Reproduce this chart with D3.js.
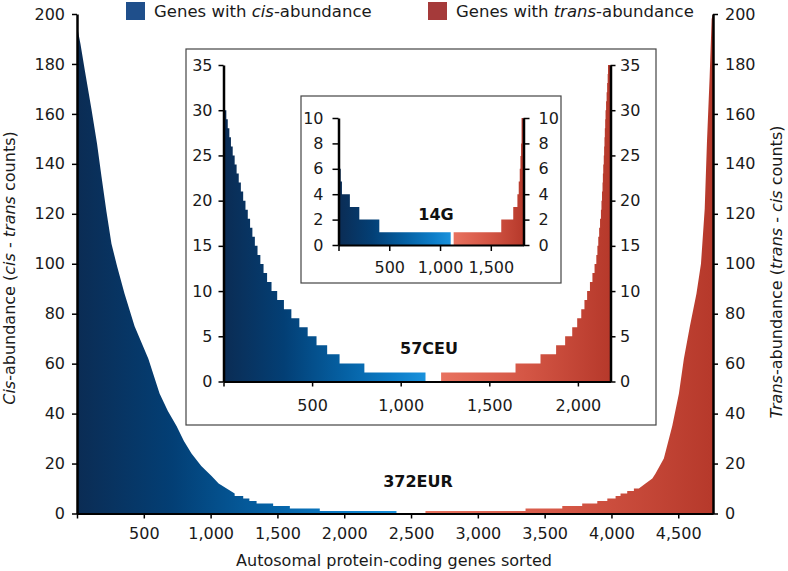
<!DOCTYPE html>
<html><head><meta charset="utf-8">
<script src="https://cdn.jsdelivr.net/npm/d3@7"></script>
<style>
html,body{margin:0;padding:0;background:#fff;}
svg{display:block;}
text{font-family:"DejaVu Sans",sans-serif;}
</style></head><body>
<svg id="chart" width="788" height="571"></svg>
<script>
// ---------- DATA ----------
// Main panel (372EUR): vertices (gene rank, count)
const mainCisGene  = [0,8,26,60,108,150,183,220,258,300,356,431,534,618,680,745,800,857,930,1007,1060,1120,1180,1180,1244,1244,1290,1290,1344,1344,1468,1468,1593,1593,1817,1817,2391];
const mainCisCount = [200,193,188,177,162,148,135,121,108,99,88,75,62,48,41,35,29,24,19,15,12,10,8,7,7,6,6,5,5,4,4,3,3,2,2,1,1];
const mainTransGene  = [2608,3357,3357,3632,3632,3781,3781,3894,3894,3969,3969,4031,4031,4068,4068,4118,4118,4168,4168,4205,4255,4306,4330,4392,4455,4505,4542,4587,4636,4670,4698,4715,4735,4750,4760];
const mainTransCount = [1,1,2,2,3,3,4,4,5,5,6,6,7,7,8,8,9,9,10,10,12,14,16,22,35,48,62,75,88,100,122,149,175,198,200];
const mainGeneTotal = 4760;
const mainXTicks = [0,500,1000,1500,2000,2500,3000,3500,4000,4500];
const mainYTicks = [0,20,40,60,80,100,120,140,160,180,200];

// Inset 57CEU: step starts (gene rank) and counts
const ceuCisStart = [0,8,16,24,33,42,52,63,74,86,98,111,124,137,150,163,177,192,208,226,246,271,303,341,383,428,475,525,585,655,795];
const ceuCisCount = [31,30,29,28,27,26,25,24,23,22,21,20,19,18,17,16,15,14,13,12,11,10,9,8,7,6,5,4,3,2,1];
const ceuCisEnd = 1140;
const ceuTransStart = [1228,1648,1789,1877,1928,1968,1996,2019,2037,2052,2068,2082,2094,2104,2110,2115,2120,2125,2130,2133,2136,2139,2141,2143,2146,2148,2150,2152,2154,2156,2159,2162,2165,2168,2170];
const ceuTransCount = [1,2,3,4,5,6,7,8,9,10,11,12,13,14,15,16,17,18,19,20,21,22,23,24,25,26,27,28,29,30,31,32,33,34,35];
const ceuTransEnd = 2184;
const ceuGeneTotal = 2184;
const ceuXTicks = [0,500,1000,1500,2000];
const ceuYTicks = [0,5,10,15,20,25,30,35];

// Inset 14G
const g14CisStart = [0,12,22,34,112,205,402];
const g14CisCount = [7,6,5,4,3,2,1];
const g14CisEnd = 1105;
const g14TransStart = [1134,1603,1721,1762,1775,1785,1792,1798,1803];
const g14TransCount = [1,2,3,4,5,6,7,8,10];
const g14TransEnd = 1822;
const g14GeneTotal = 1822;
const g14XTicks = [0,500,1000,1500];
const g14YTicks = [0,2,4,6,8,10];

// ---------- DRAW ----------
const svg = d3.select('#chart');
const defs = svg.append('defs');
const FONT = '"DejaVu Sans", sans-serif';
function grad(id, x1, x2, stops){
  const g = defs.append('linearGradient').attr('id', id)
    .attr('gradientUnits','userSpaceOnUse').attr('x1',x1).attr('x2',x2).attr('y1',0).attr('y2',0);
  stops.forEach(([o,c]) => g.append('stop').attr('offset',o).attr('stop-color',c));
}
const blueStops = [[0,'#0b2c54'],[0.3,'#033f75'],[0.6,'#0561a4'],[0.85,'#0d7ec9'],[1,'#1b92dc']];
const redStops = [[0,'#e8725f'],[0.5,'#d45645'],[1,'#b6392b']];
const fmt = d3.format(',');

function styleAxis(g, w){
  g.attr('font-family', FONT).attr('font-size', 16);
  g.select('.domain').attr('stroke','#000').attr('stroke-width', w);
  g.selectAll('.tick line').attr('stroke','#000').attr('stroke-width',1.5);
  g.selectAll('.tick text').attr('fill','#1a1a1a');
}

function panel(cfg){
  const x = d3.scaleLinear().domain([0, cfg.total]).range(cfg.xr);
  const y = d3.scaleLinear().domain([0, cfg.ymax]).range(cfg.yr);
  const area = d3.area().x(d => x(d[0])).y0(y(0)).y1(d => y(d[1])).curve(cfg.curve);
  grad(cfg.id + 'B', x(cfg.cis[0][0]), x(cfg.cis[cfg.cis.length-1][0]), blueStops);
  grad(cfg.id + 'R', x(cfg.trans[0][0]), x(cfg.trans[cfg.trans.length-1][0]), redStops);
  svg.append('path').datum(cfg.cis).attr('d', area).attr('fill', `url(#${cfg.id}B)`);
  svg.append('path').datum(cfg.trans).attr('d', area).attr('fill', `url(#${cfg.id}R)`);
  const gx = svg.append('g').attr('transform', `translate(0,${cfg.yr[0]})`)
    .call(d3.axisBottom(x).tickValues(cfg.xt).tickSize(cfg.ts).tickPadding(cfg.xpad).tickSizeOuter(0)
      .tickFormat(d => d === 0 ? '' : fmt(d)));
  styleAxis(gx, 2);
  const gl = svg.append('g').attr('transform', `translate(${cfg.xr[0]},0)`)
    .call(d3.axisLeft(y).tickValues(cfg.yt).tickSize(cfg.ts).tickPadding(cfg.lpad).tickSizeOuter(0));
  styleAxis(gl, 2.5);
  const gr = svg.append('g').attr('transform', `translate(${cfg.xr[1]},0)`)
    .call(d3.axisRight(y).tickValues(cfg.yt).tickSize(cfg.ts).tickPadding(cfg.rpad).tickSizeOuter(0));
  styleAxis(gr, 2.5);
  svg.append('text').attr('x', cfg.label[0]).attr('y', cfg.label[1]).attr('text-anchor','middle')
    .attr('font-family', FONT).attr('font-weight','bold').attr('font-size',16).attr('fill','#111')
    .text(cfg.name);
}
const zip = (a,b) => a.map((v,i) => [v, b[i]]);
const steps = (s,c,end) => zip(s,c).concat([[end, c[c.length-1]]]);

// Main panel
panel({id:'m', total: mainGeneTotal, ymax:200, xr:[77,713], yr:[513.5,14],
  cis: zip(mainCisGene, mainCisCount), trans: zip(mainTransGene, mainTransCount),
  curve: d3.curveLinear, xt: mainXTicks, yt: mainYTicks, ts:5, xpad:9, lpad:7, rpad:7,
  name:'372EUR', label:[418,487]});

// Inset 57CEU
svg.append('rect').attr('x',186).attr('y',49).attr('width',470).attr('height',376)
  .attr('fill','#fff').attr('stroke','#444').attr('stroke-width',1.2);
panel({id:'c', total: ceuGeneTotal, ymax:35, xr:[223.5,610.5], yr:[381.5,65],
  cis: steps(ceuCisStart, ceuCisCount, ceuCisEnd), trans: steps(ceuTransStart, ceuTransCount, ceuTransEnd),
  curve: d3.curveStepAfter, xt: ceuXTicks, yt: ceuYTicks, ts:5, xpad:13, lpad:6, rpad:4.5,
  name:'57CEU', label:[429,354]});

// Inset 14G
svg.append('rect').attr('x',301).attr('y',96).attr('width',260).attr('height',187)
  .attr('fill','#fff').attr('stroke','#444').attr('stroke-width',1.2);
panel({id:'g', total: g14GeneTotal, ymax:10, xr:[338.5,523.5], yr:[245,118],
  cis: steps(g14CisStart, g14CisCount, g14CisEnd), trans: steps(g14TransStart, g14TransCount, g14TransEnd),
  curve: d3.curveStepAfter, xt: g14XTicks, yt: g14YTicks, ts:6, xpad:11, lpad:9, rpad:9,
  name:'14G', label:[436,220]});

// Legend
const legend = [
  {color:'#1f4f8b', x:126, parts:[['Genes with ',false],['cis',true],['-abundance',false]]},
  {color:'#a53a3a', x:428, parts:[['Genes with ',false],['trans',true],['-abundance',false]]}
];
legend.forEach(l => {
  svg.append('rect').attr('x', l.x).attr('y', 2).attr('width',19).attr('height',18).attr('fill', l.color);
  const t = svg.append('text').attr('x', l.x + 28).attr('y', 17).attr('font-family',FONT)
    .attr('font-size',16.5).attr('fill','#1a1a1a');
  l.parts.forEach(([s,it]) => t.append('tspan').attr('font-style', it ? 'italic' : 'normal').text(s));
});

// Axis titles
function title(x, y, rot, parts){
  const t = svg.append('text').attr('transform', `translate(${x},${y}) rotate(${rot})`)
    .attr('text-anchor','middle').attr('font-family',FONT).attr('font-size',16).attr('fill','#1a1a1a');
  parts.forEach(([s,it]) => t.append('tspan').attr('font-style', it ? 'italic' : 'normal').text(s));
}
title(15, 268, -90, [['Cis',true],['-abundance (',false],['cis',true],[' - ',false],['trans',true],[' counts)',false]]);
title(782, 272, -90, [['Trans',true],['-abundance (',false],['trans',true],[' - ',false],['cis',true],[' counts)',false]]);
title(394, 566, 0, [['Autosomal protein-coding genes sorted',false]]);
</script>
</body></html>
